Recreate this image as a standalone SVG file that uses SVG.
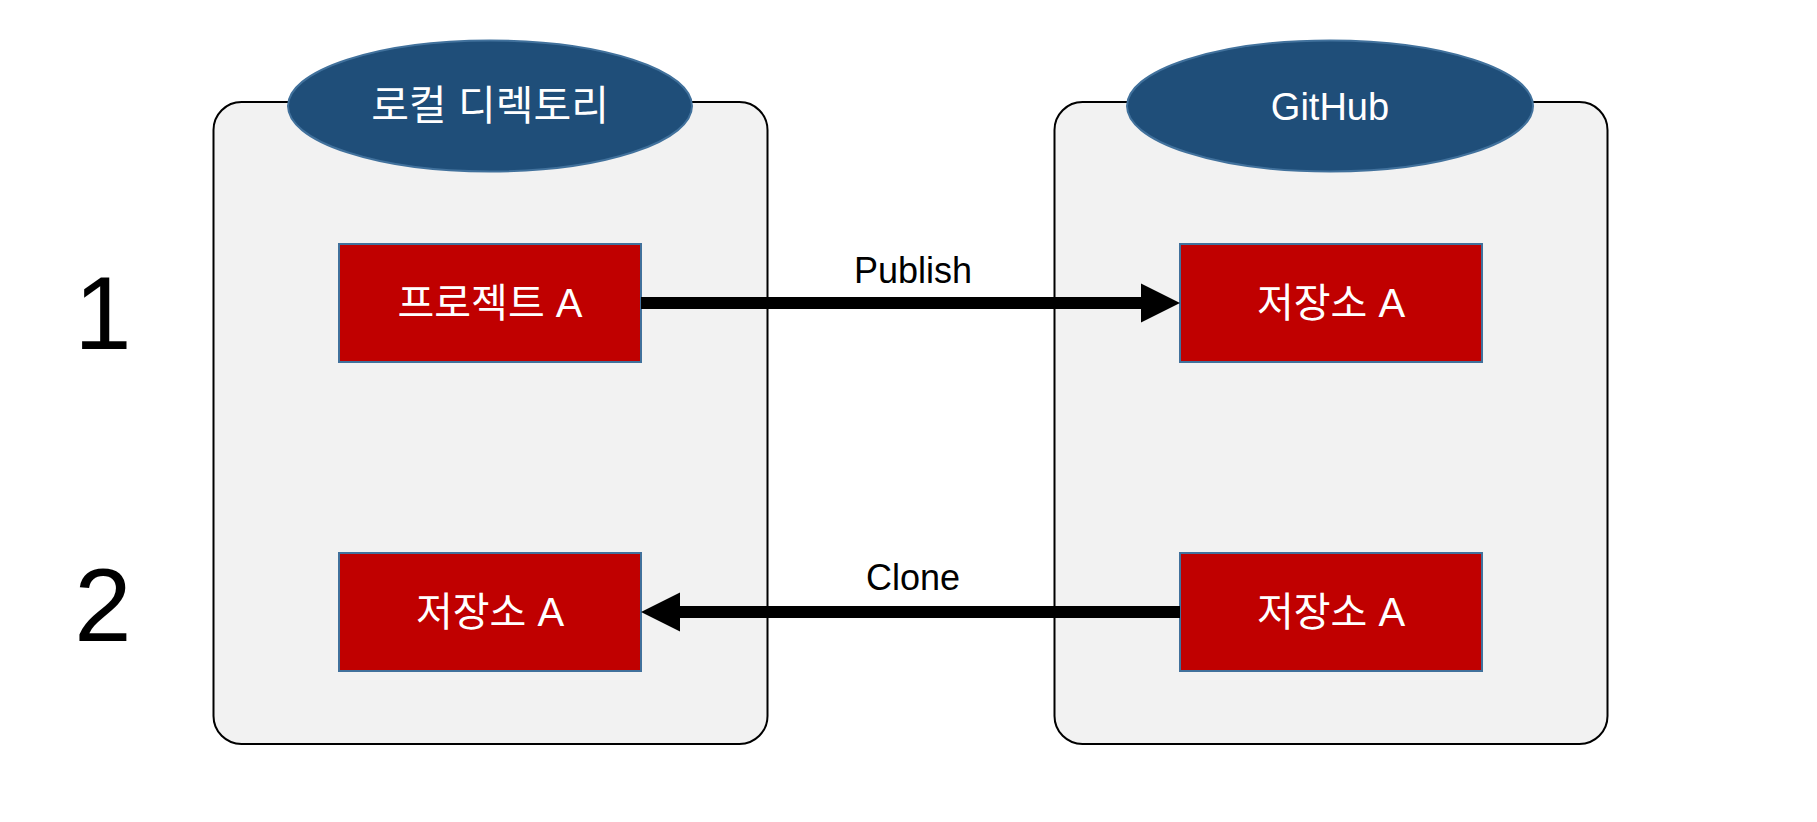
<svg xmlns="http://www.w3.org/2000/svg" width="1817" height="822" viewBox="0 0 1817 822">
<defs>
<style>
.container{fill:#f2f2f2;stroke:#000;stroke-width:2}
.title{fill:#1f4e79;stroke:#41719c;stroke-width:2}
.box{fill:#c00000;stroke:#41719c;stroke-width:2}
.wt{fill:#fff;font-family:"Liberation Sans","Noto Sans CJK KR",sans-serif;font-size:38px;text-anchor:middle}
.ko{font-size:40px}
.lbl{fill:#000;font-family:"Liberation Sans","Noto Sans CJK KR",sans-serif;font-size:36px;text-anchor:middle}
.num{fill:#000;font-family:"Liberation Sans",sans-serif;font-size:103px;text-anchor:middle}
.conn{stroke:#000;stroke-width:12;fill:none}
</style>
</defs>
<rect width="1817" height="822" fill="#fff"/>
<g id="local-container">
<rect class="container" x="213.5" y="102" width="554" height="642" rx="28" ry="28"/>
<ellipse class="title" cx="490" cy="106" rx="202" ry="65.5"/>
<text class="wt" x="490" y="120" style="font-size:41px">로컬 디렉토리</text>
</g>
<g id="github-container">
<rect class="container" x="1054.5" y="102" width="553" height="642" rx="28" ry="28"/>
<ellipse class="title" cx="1330" cy="106" rx="203" ry="65.5"/>
<text class="wt" x="1330" y="120">GitHub</text>
</g>
<g id="row1-label"><text class="num" x="103" y="349">1</text></g>
<g id="row2-label"><text class="num" x="103" y="641">2</text></g>
<g id="project-a">
<rect class="box" x="339" y="244" width="302" height="118"/>
<text class="wt ko" x="490" y="317">프로젝트 A</text>
</g>
<g id="github-repo-a-1">
<rect class="box" x="1180" y="244" width="302" height="118"/>
<text class="wt ko" x="1331" y="317">저장소 A</text>
</g>
<g id="local-repo-a">
<rect class="box" x="339" y="553" width="302" height="118"/>
<text class="wt ko" x="490" y="626">저장소 A</text>
</g>
<g id="github-repo-a-2">
<rect class="box" x="1180" y="553" width="302" height="118"/>
<text class="wt ko" x="1331" y="626">저장소 A</text>
</g>
<g id="connectors">
<line class="conn" x1="641" y1="303" x2="1147" y2="303"/>
<path d="M1141,283.5 L1180,303 L1141,322.5 Z" fill="#000"/>
<text class="lbl" x="913" y="283">Publish</text>
<line class="conn" x1="1180" y1="612" x2="674" y2="612"/>
<path d="M680,592.5 L641,612 L680,631.5 Z" fill="#000"/>
<text class="lbl" x="913" y="590">Clone</text>
</g>
</svg>
